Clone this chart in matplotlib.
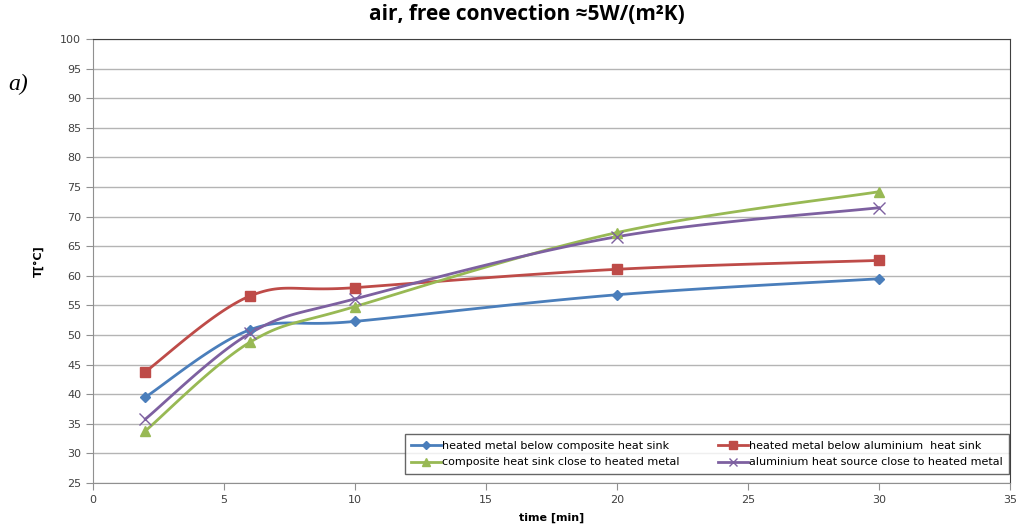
import numpy as np
import matplotlib
matplotlib.use('Agg')
import matplotlib.pyplot as plt

time = [2, 6, 10, 20, 30]
blue_vals = [39.5, 50.9, 52.3, 56.8, 59.5]
red_vals = [43.8, 56.6, 58.0, 61.1, 62.6]
green_vals = [33.8, 48.8, 54.8, 67.3, 74.2]
purple_vals = [35.8, 50.3, 56.1, 66.6, 71.5]

labels = ['heated metal below composite heat sink',
          'heated metal below aluminium  heat sink',
          'composite heat sink close to heated metal',
          'aluminium heat source close to heated metal']
colors = ['#4a7ebb', '#be4b48', '#98b954', '#7d60a0']
markers = ['D', 's', '^', 'x']
msizes = [5, 7.5, 7, 8]


def smooth(xs, ys, n=30):
    # Excel-like smoothing: Bezier with Catmull-Rom control points
    xs = np.asarray(xs, float)
    ys = np.asarray(ys, float)
    px, py = [], []
    t = np.linspace(0, 1, n)
    for i in range(len(xs) - 1):
        i0 = max(i - 1, 0)
        i3 = min(i + 2, len(xs) - 1)
        c1x = xs[i] + (xs[i + 1] - xs[i0]) / 6
        c1y = ys[i] + (ys[i + 1] - ys[i0]) / 6
        c2x = xs[i + 1] - (xs[i3] - xs[i]) / 6
        c2y = ys[i + 1] - (ys[i3] - ys[i]) / 6
        bx = ((1-t)**3*xs[i] + 3*(1-t)**2*t*c1x + 3*(1-t)*t**2*c2x + t**3*xs[i+1])
        by = ((1-t)**3*ys[i] + 3*(1-t)**2*t*c1y + 3*(1-t)*t**2*c2y + t**3*ys[i+1])
        px.extend(bx)
        py.extend(by)
    return px, py


fig = plt.figure(figsize=(10.17, 5.24), dpi=100)
ax = fig.add_axes([0.0914, 0.0782, 0.9016, 0.8474])

series = [blue_vals, red_vals, green_vals, purple_vals]
handles = []
for vals, c, m, ms, lab in zip(series, colors, markers, msizes, labels):
    sx, sy = smooth(time, vals)
    ax.plot(sx, sy, color=c, lw=2, zorder=3)
    ax.plot(time, vals, linestyle='none', marker=m, color=c, ms=ms,
            mew=1.0, zorder=4)
    h, = ax.plot([], [], color=c, lw=2, marker=m, ms=ms * 0.8, mew=1.0)
    handles.append(h)

ax.set_xlim(0, 35)
ax.set_ylim(25, 100)
ax.set_xticks(range(0, 36, 5))
ax.set_yticks(range(25, 101, 5))
ax.grid(axis='y', color='#b4b4b4', lw=1)
ax.set_axisbelow(True)
for s in ax.spines.values():
    s.set_color('#909090')
ax.spines['top'].set_color('#404040')
ax.spines['right'].set_color('#404040')
ax.tick_params(labelsize=8, colors='#909090', length=5, labelcolor='#404040')

ax.set_xlabel('time [min]', fontsize=8, fontweight='bold', labelpad=6)
ax.set_ylabel('T[°C]', fontsize=8, fontweight='bold', labelpad=12)

fig.text(0.518, 0.972, 'air, free convection \u22485W/(m\u00b2K)', ha='center',
         va='center', fontsize=15, fontweight='bold', family='Open Sans')
fig.text(0.008, 0.838, 'a)', fontsize=17, style='italic',
         family='Liberation Serif', va='center')

leg = ax.legend([handles[0], handles[2], handles[1], handles[3]],
                [labels[0], labels[2], labels[1], labels[3]],
                ncol=2, loc='lower right', bbox_to_anchor=(0.9993, 0.02),
                borderaxespad=0,
                fontsize=8, frameon=True, fancybox=False, edgecolor='#404040',
                handlelength=2.7, columnspacing=3.5, borderpad=0.6,
                labelspacing=0.6, handletextpad=0.05)
leg.get_frame().set_linewidth(1)

fig.savefig('out.png', dpi=100)
